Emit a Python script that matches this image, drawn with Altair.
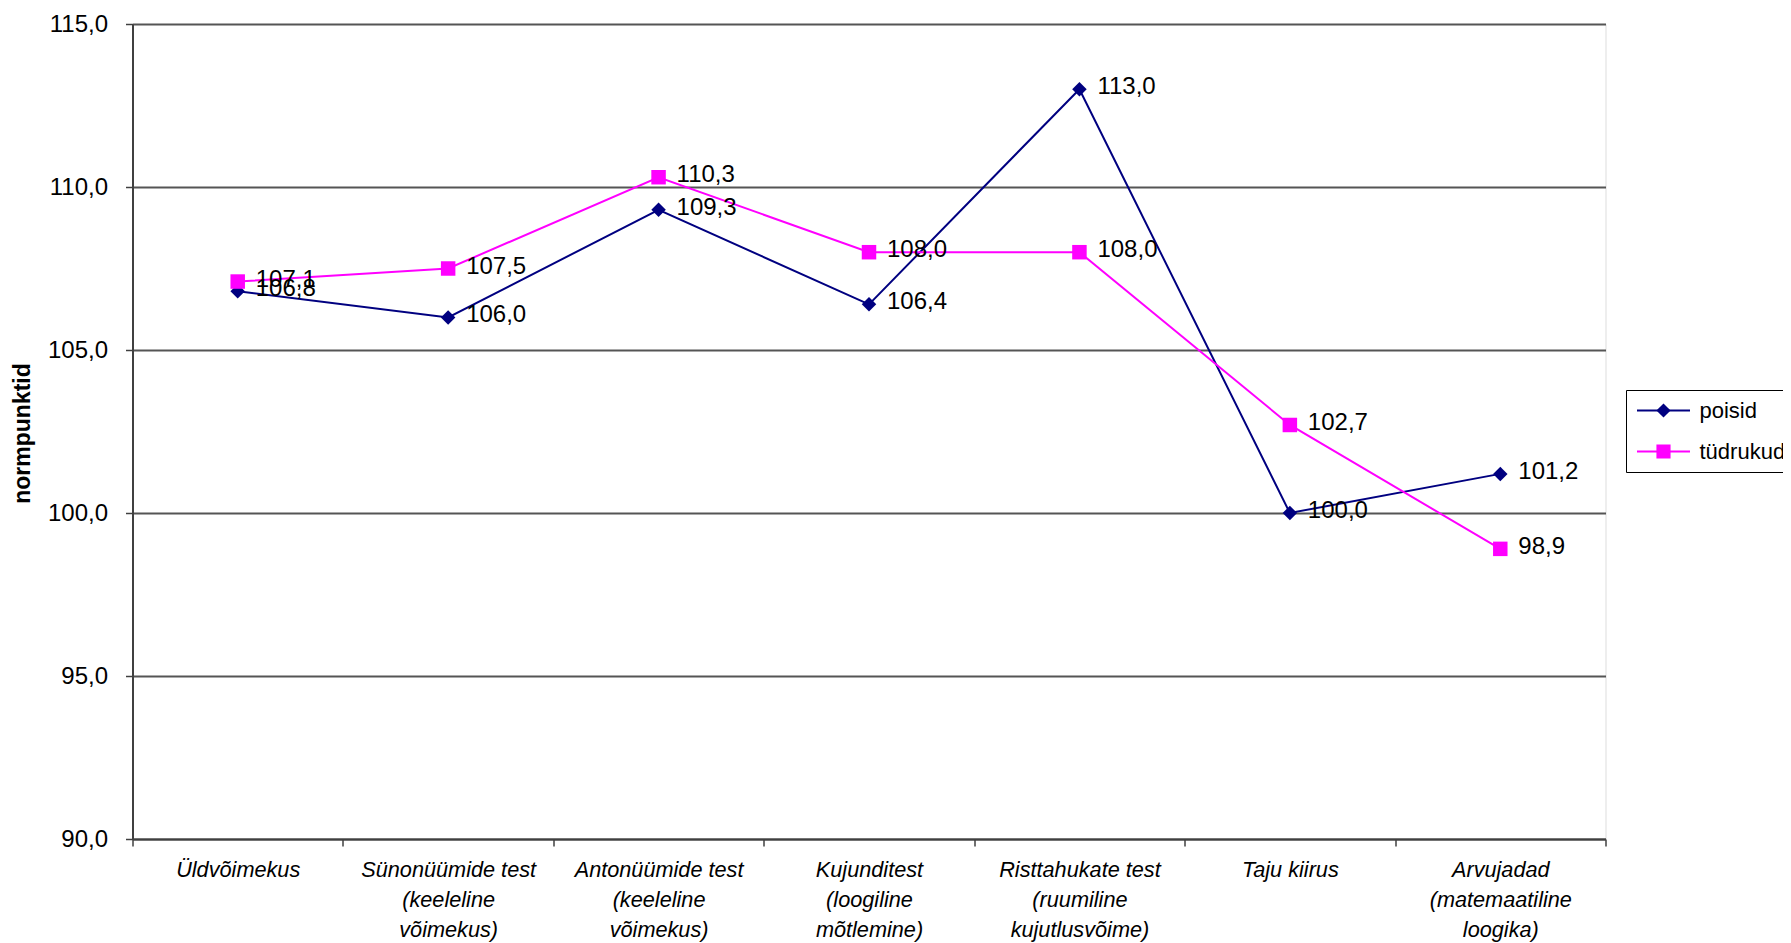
import altair as alt
import pandas as pd

categories = [
    "Üldvõimekus",
    "Sünonüümide test|(keeleline|võimekus)",
    "Antonüümide test|(keeleline|võimekus)",
    "Kujunditest|(loogiline|mõtlemine)",
    "Risttahukate test|(ruumiline|kujutlusvõime)",
    "Taju kiirus",
    "Arvujadad|(matemaatiline|loogika)",
]
series_names = ["poisid", "tüdrukud"]
poisid = [106.8, 106.0, 109.3, 106.4, 113.0, 100.0, 101.2]
tudrukud = [107.1, 107.5, 110.3, 108.0, 108.0, 102.7, 98.9]
y_ticks = [90, 95, 100, 105, 110, 115]

colors = ["#000080", "#FF00FF"]
shapes = ["diamond", "square"]

rows = []
for name, vals in zip(series_names, [poisid, tudrukud]):
    for c, v in zip(categories, vals):
        rows.append({"kat": c, "serie": name, "serie2": name + " ", "v": v,
                     "lbl": f"{v:.1f}".replace(".", ",")})
df = pd.DataFrame(rows)

FONT = "Liberation Sans"

x_enc = alt.X(
    "kat:N",
    sort=categories,
    scale=alt.Scale(paddingInner=0, paddingOuter=0),
    axis=alt.Axis(
        title=None,
        labelExpr="datum.value ? split(datum.value, '|') : ''",
        labelAngle=0,
        labelFontStyle="italic",
        labelFontSize=21.7,
        labelFont=FONT,
        labelColor="black",
        labelLineHeight=30.3,
        labelBaseline="top",
        labelPadding=13,
        labelLimit=400,
        tickBand="extent",
        tickSize=7,
        tickColor="#404040",
        tickWidth=1.5,
        domainColor="#404040",
        domainWidth=2,
        grid=False,
    ),
)
y_enc = alt.Y(
    "v:Q",
    scale=alt.Scale(domain=[90, 115], nice=False, zero=False),
    axis=alt.Axis(
        title="normpunktid",
        titleFont=FONT,
        titleFontSize=23,
        titleFontWeight="bold",
        titleColor="black",
        titleAngle=270,
        titleAlign="center",
        titleBaseline="middle",
        titleX=-110,
        titleY=409,
        values=y_ticks,
        labelExpr="replace(format(datum.value, '.1f'), '.', ',')",
        labelFont=FONT,
        labelFontSize=24,
        labelColor="black",
        labelPadding=18,
        tickSize=7,
        tickColor="#404040",
        tickWidth=1.5,
        domainColor="#404040",
        domainWidth=2,
        gridColor="#555555",
        gridWidth=2,
    ),
)

LEG_X = 1493.5
LEG_Y = 366

leg_lines = alt.Legend(
    title=None,
    orient="none",
    legendX=LEG_X,
    legendY=LEG_Y,
    padding=7.5,
    fillColor="white",
    strokeColor="black",
    cornerRadius=0,
    symbolType="stroke",
    symbolSize=2809,
    symbolStrokeWidth=2,
    symbolOffset=2.5,
    clipHeight=26,
    rowPadding=15,
    labelFont=FONT,
    labelFontSize=22,
    labelColor="black",
    labelOffset=8.5,
)
leg_points = alt.Legend(
    title=None,
    orient="none",
    legendX=LEG_X,
    legendY=LEG_Y,
    padding=7.5,
    cornerRadius=0,
    symbolSize=200,
    symbolOffset=19,
    clipHeight=26,
    rowPadding=15,
    labelFont=FONT,
    labelFontSize=22,
    labelColor="transparent",
    labelOffset=8.5,
)

base = alt.Chart(df)

lines = base.mark_line(strokeWidth=2).encode(
    x=x_enc,
    y=y_enc,
    stroke=alt.Stroke("serie:N", scale=alt.Scale(domain=series_names, range=colors), legend=leg_lines),
)

points = base.mark_point(filled=True, size=210, opacity=1).encode(
    x=x_enc,
    y=y_enc,
    color=alt.Color("serie2:N", scale=alt.Scale(domain=[s + " " for s in series_names], range=colors), legend=leg_points),
    shape=alt.Shape("serie2:N", scale=alt.Scale(domain=[s + " " for s in series_names], range=shapes), legend=leg_points),
)

labels = base.mark_text(align="left", baseline="middle", dx=18, dy=-2, fontSize=24, font=FONT, color="black").encode(
    x=x_enc, y=y_enc, text="lbl:N"
)

chart = (
    alt.layer(lines, points, labels)
    .properties(
        width=1473,
        height=815,
        autosize=alt.AutoSizeParams(type="none"),
        padding={"left": 124.5, "top": 16, "right": 177, "bottom": 104},
    )
    .configure_view(fill="#C0C0C0", stroke="#808080", strokeWidth=2)
    .configure(background="white")
)

chart.save("out.html", embed_options={"renderer": "svg", "actions": False})
